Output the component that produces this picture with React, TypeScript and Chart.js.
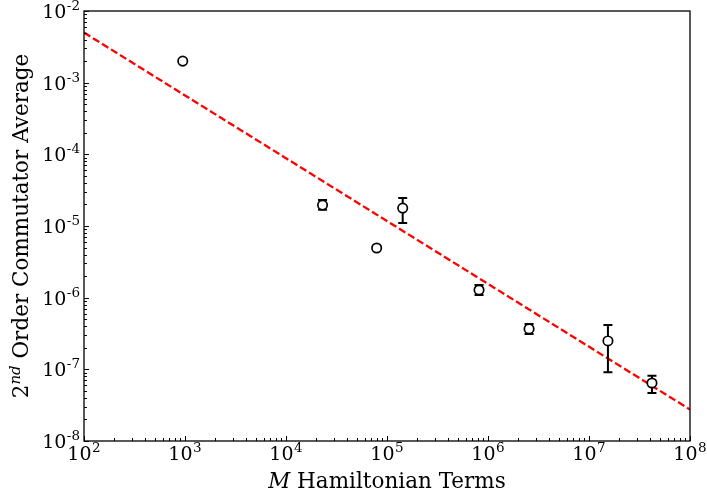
import React, { useEffect, useRef } from "react";
import { Chart, registerables } from "chart.js";

Chart.register(...registerables);

// ---- data ----
const xValues = [950, 23000, 79000, 143000, 815000, 2550000, 15400000, 42000000];
const yValues = [2.0e-3, 1.96e-5, 4.93e-6, 1.78e-5, 1.28e-6, 3.66e-7, 2.49e-7, 6.45e-8];
const yErrLow: (number | null)[] = [null, 1.68e-5, null, 1.1e-5, 1.09e-6, 3.1e-7, 9.1e-8, 4.68e-8];
const yErrHigh: (number | null)[] = [null, 2.3e-5, null, 2.46e-5, 1.5e-6, 4.3e-7, 4.16e-7, 8.15e-8];
const fitX = [1e2, 1e8];
const fitY = [5.0e-3, 2.75e-8];
const xTickExponents = [2, 3, 4, 5, 6, 7, 8];
const yTickExponents = [-8, -7, -6, -5, -4, -3, -2];
const xTitleItalic = "M";
const xTitleRest = " Hamiltonian Terms";
const yTitleBase = "2";
const yTitleSup = "nd";
const yTitleRest = " Order Commutator Average";

const FONT = '"DejaVu Serif", serif';
const TICK_PX = 19;
const SUP_PX = 13.5;
const TITLE_PX = 21.5;

function drawPow(ctx: CanvasRenderingContext2D, exp: number, x: number, baseline: number, align: "center" | "right") {
  const base = "10";
  const sup = String(exp);
  ctx.font = `${TICK_PX}px ${FONT}`;
  const wb = ctx.measureText(base).width;
  ctx.font = `${SUP_PX}px ${FONT}`;
  const ws = ctx.measureText(sup).width;
  const total = wb + ws + 0.5;
  const left = align === "center" ? x - total / 2 : x - total;
  ctx.textAlign = "left";
  ctx.textBaseline = "alphabetic";
  ctx.fillStyle = "#000";
  ctx.font = `${TICK_PX}px ${FONT}`;
  ctx.fillText(base, left, baseline);
  ctx.font = `${SUP_PX}px ${FONT}`;
  ctx.fillText(sup, left + wb + 0.5, baseline - 8);
}

const decorPlugin = {
  id: "decor",
  beforeDatasetDraw(chart: any, args: any) {
    if (args.index !== 0) return;
    const ctx: CanvasRenderingContext2D = chart.ctx;
    const xs = chart.scales.x;
    const ys = chart.scales.y;
    ctx.save();
    ctx.strokeStyle = "#000";
    ctx.lineWidth = 2;
    for (let i = 0; i < xValues.length; i++) {
      const lo = yErrLow[i];
      const hi = yErrHigh[i];
      if (lo == null || hi == null) continue;
      const px = xs.getPixelForValue(xValues[i]);
      const pLo = ys.getPixelForValue(lo);
      const pHi = ys.getPixelForValue(hi);
      ctx.beginPath();
      ctx.moveTo(px, pLo);
      ctx.lineTo(px, pHi);
      ctx.moveTo(px - 4.5, pLo);
      ctx.lineTo(px + 4.5, pLo);
      ctx.moveTo(px - 4.5, pHi);
      ctx.lineTo(px + 4.5, pHi);
      ctx.stroke();
    }
    ctx.restore();
  },
  afterDraw(chart: any) {
    const ctx: CanvasRenderingContext2D = chart.ctx;
    const { left, right, top, bottom } = chart.chartArea;
    const xs = chart.scales.x;
    const ys = chart.scales.y;
    ctx.save();
    // frame
    ctx.strokeStyle = "#000";
    ctx.lineWidth = 1.3;
    ctx.strokeRect(left, top, right - left, bottom - top);
    // ticks (inward)
    ctx.lineWidth = 1;
    ctx.beginPath();
    for (let e = xTickExponents[0]; e <= xTickExponents[xTickExponents.length - 1]; e++) {
      for (let m = 1; m <= 9; m++) {
        const v = m * Math.pow(10, e);
        if (v > xs.max * 1.0001) break;
        const p = Math.round(xs.getPixelForValue(v)) + 0.5;
        const len = m === 1 ? 5 : 3;
        ctx.moveTo(p, bottom);
        ctx.lineTo(p, bottom - len);
      }
    }
    for (let e = yTickExponents[0]; e <= yTickExponents[yTickExponents.length - 1]; e++) {
      for (let m = 1; m <= 9; m++) {
        const v = m * Math.pow(10, e);
        if (v > ys.max * 1.0001) break;
        const p = Math.round(ys.getPixelForValue(v)) + 0.5;
        const len = m === 1 ? 5 : 3;
        ctx.moveTo(left, p);
        ctx.lineTo(left + len, p);
      }
    }
    ctx.stroke();
    // tick labels
    for (const e of xTickExponents) {
      const p = xs.getPixelForValue(Math.pow(10, e));
      drawPow(ctx, e, p, bottom + 19, "center");
    }
    for (const e of yTickExponents) {
      const p = ys.getPixelForValue(Math.pow(10, e));
      drawPow(ctx, e, left - 4, p + 7, "right");
    }
    // x title
    ctx.fillStyle = "#000";
    ctx.textBaseline = "alphabetic";
    ctx.textAlign = "left";
    ctx.font = `italic ${TITLE_PX}px ${FONT}`;
    const wM = ctx.measureText(xTitleItalic).width;
    ctx.font = `${TITLE_PX}px ${FONT}`;
    const wR = ctx.measureText(xTitleRest).width;
    const cx = (left + right) / 2;
    const sx = cx - (wM + wR) / 2;
    const xb = 488;
    ctx.font = `italic ${TITLE_PX}px ${FONT}`;
    ctx.fillText(xTitleItalic, sx, xb);
    ctx.font = `${TITLE_PX}px ${FONT}`;
    ctx.fillText(xTitleRest, sx + wM, xb);
    // y title (rotated)
    ctx.font = `${TITLE_PX}px ${FONT}`;
    const w2 = ctx.measureText(yTitleBase).width;
    const wRest = ctx.measureText(yTitleRest).width;
    ctx.font = `italic 15px ${FONT}`;
    const wSup = ctx.measureText(yTitleSup).width;
    const total = w2 + wSup + wRest;
    const cy = (top + bottom) / 2;
    ctx.translate(28, cy);
    ctx.rotate(-Math.PI / 2);
    let tx = -total / 2;
    ctx.font = `${TITLE_PX}px ${FONT}`;
    ctx.fillText(yTitleBase, tx, 0);
    tx += w2;
    ctx.font = `italic 15px ${FONT}`;
    ctx.fillText(yTitleSup, tx, -8);
    tx += wSup;
    ctx.font = `${TITLE_PX}px ${FONT}`;
    ctx.fillText(yTitleRest, tx, 0);
    ctx.restore();
  },
};

export default function App() {
  const ref = useRef<HTMLCanvasElement | null>(null);
  useEffect(() => {
    if (!ref.current) return;
    const chart = new Chart(ref.current, {
      type: "scatter",
      data: {
        datasets: [
          {
            label: "data",
            data: xValues.map((x, i) => ({ x, y: yValues[i] })),
            pointRadius: 4.7,
            pointBorderWidth: 1.7,
            pointBorderColor: "#000",
            pointBackgroundColor: "#fff",
            showLine: false,
          },
          {
            label: "fit",
            data: fitX.map((x, i) => ({ x, y: fitY[i] })),
            showLine: true,
            pointRadius: 0,
            borderColor: "#ff0000",
            borderWidth: 2.3,
            borderDash: [7.4, 3.2],
          },
        ],
      },
      options: {
        animation: false,
        responsive: false,
        devicePixelRatio: 1,
        layout: { padding: { top: 11, right: 17, left: 0, bottom: 0 } },
        plugins: { legend: { display: false }, tooltip: { enabled: false } },
        scales: {
          x: {
            type: "logarithmic",
            min: 1e2,
            max: 1e8,
            grid: { display: false },
            border: { display: false },
            ticks: { display: false },
            afterFit: (s: any) => {
              s.height = 56;
            },
          },
          y: {
            type: "logarithmic",
            min: 1e-8,
            max: 1e-2,
            grid: { display: false },
            border: { display: false },
            ticks: { display: false },
            afterFit: (s: any) => {
              s.width = 84;
            },
          },
        },
      } as any,
      plugins: [decorPlugin],
    });
    return () => chart.destroy();
  }, []);
  return (
    <div style={{ position: "absolute", left: 0, top: 0, width: 707, height: 497, background: "#fff" }}>
      <canvas ref={ref} width={707} height={497} />
    </div>
  );
}
